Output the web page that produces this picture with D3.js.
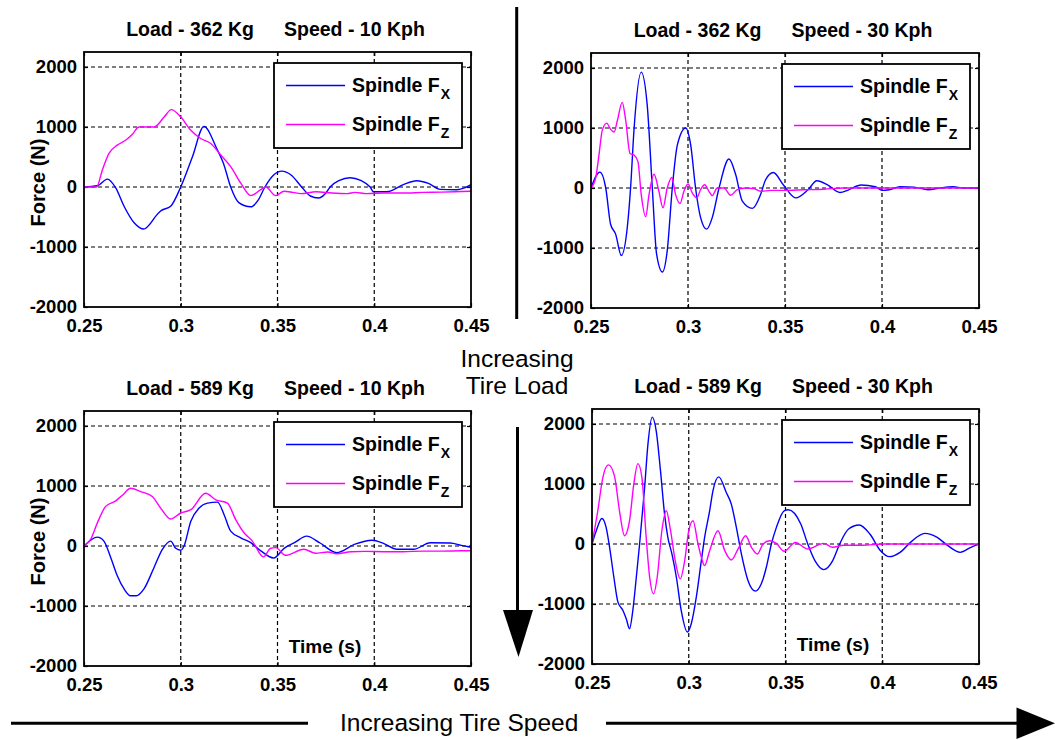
<!DOCTYPE html>
<html>
<head>
<meta charset="utf-8">
<script src="https://cdn.jsdelivr.net/npm/d3@7"></script>
<style>
  body { margin: 0; background: #fff; }
  svg { display: block; }
  text { font-family: "Liberation Sans", Arial, Helvetica, sans-serif; fill: #000; }
</style>
</head>
<body>
<svg id="chart" width="1055" height="740"></svg>
<script>
// Axis ticks shared by all four panels
const timeTicks = [0.25, 0.3, 0.35, 0.4, 0.45];
const timeTickLabels = ["0.25", "0.3", "0.35", "0.4", "0.45"];
const forceTicks = [-2000, -1000, 0, 1000, 2000];
const forceTickLabels = ["-2000", "-1000", "0", "1000", "2000"];

// Test conditions
const loads = ["362 Kg", "589 Kg"];
const speeds = ["10 Kph", "30 Kph"];
const seriesNames = ["Spindle F", "Spindle F"];
const seriesSubscripts = ["X", "Z"];

// Spindle forces [time (s), force (N)] — load 362 Kg, speed 10 Kph
const fx362at10 = [[0.25,0],[0.2569,20],[0.2621,132],[0.2664,-16],[0.2707,-320],[0.2759,-595],[0.2810,-700],[0.2840,-620],[0.2871,-485],[0.2896,-400],[0.2948,-320],[0.3000,0],[0.3060,500],[0.3120,1010],[0.3186,640],[0.3220,400],[0.3258,0],[0.3300,-260],[0.3362,-330],[0.3400,-220],[0.3435,0],[0.3480,200],[0.3522,265],[0.3570,200],[0.3625,0],[0.3670,-150],[0.3711,-183],[0.3750,-100],[0.3772,0],[0.3820,110],[0.3875,155],[0.3930,110],[0.3979,0],[0.3996,-80],[0.4065,-80],[0.4150,40],[0.4220,105],[0.4280,60],[0.4341,-40],[0.4427,-45],[0.4470,-10],[0.45,40]];
const fz362at10 = [[0.25,0],[0.2565,0],[0.2595,285],[0.2629,560],[0.2672,698],[0.2715,780],[0.2750,880],[0.2784,1000],[0.2862,1000],[0.2914,1165],[0.2951,1290],[0.3000,1165],[0.3052,945],[0.3103,808],[0.3155,725],[0.3207,533],[0.3258,340],[0.3310,66],[0.3362,-144],[0.3413,-45],[0.3439,0],[0.3491,-144],[0.3534,-70],[0.3580,-90],[0.3620,-110],[0.3700,-80],[0.3780,-100],[0.3860,-110],[0.3900,-90],[0.3960,-110],[0.4050,-100],[0.4150,-100],[0.4250,-90],[0.4350,-85],[0.4450,-75],[0.45,-70]];

// Load 362 Kg, speed 30 Kph
const fx362at30 = [[0.25,0],[0.2546,264],[0.2576,0],[0.2601,-604],[0.2627,-769],[0.2656,-1125],[0.2687,-659],[0.2704,0],[0.2722,988],[0.2759,1932],[0.2790,1372],[0.2816,0],[0.2838,-1098],[0.2868,-1400],[0.2893,-1043],[0.2919,0],[0.2945,714],[0.2988,999],[0.3014,714],[0.3039,0],[0.3065,-494],[0.3096,-686],[0.3125,-494],[0.3160,0],[0.3211,483],[0.3246,220],[0.3280,-220],[0.3332,-340],[0.3374,-110],[0.3400,137],[0.3440,258],[0.3491,55],[0.3555,-165],[0.3619,-28],[0.3664,120],[0.3719,54],[0.3783,-75],[0.3828,-30],[0.3892,50],[0.3965,20],[0.4000,-40],[0.4037,-30],[0.4093,20],[0.4165,15],[0.4237,-30],[0.4300,0],[0.4366,20],[0.4420,0],[0.45,0]];
const fz362at30 = [[0.25,0],[0.2524,165],[0.2541,549],[0.2558,961],[0.2581,1082],[0.2601,977],[0.2619,933],[0.2636,1125],[0.2661,1427],[0.2679,1125],[0.2701,576],[0.2722,549],[0.2742,439],[0.2759,-110],[0.2782,-478],[0.2799,-110],[0.2825,230],[0.2850,-55],[0.2871,-329],[0.2893,0],[0.2916,176],[0.2936,-110],[0.2959,-258],[0.2979,-55],[0.3000,66],[0.3022,-82],[0.3045,-165],[0.3065,-27],[0.3086,55],[0.3108,-55],[0.3125,-126],[0.3151,0],[0.3185,0],[0.3220,-121],[0.3254,-27],[0.3297,0],[0.3340,-10],[0.3374,-55],[0.3426,-40],[0.3495,-40],[0.3600,-30],[0.3700,-20],[0.3800,0],[0.45,0]];

// Load 589 Kg, speed 10 Kph
const fx589at10 = [[0.25,0],[0.2569,148],[0.2603,82],[0.2638,-192],[0.2672,-495],[0.2707,-715],[0.2740,-830],[0.2770,-830],[0.2810,-715],[0.2862,-357],[0.2905,-55],[0.2948,82],[0.2974,-38],[0.3000,-71],[0.3017,0],[0.3052,412],[0.3095,632],[0.3138,715],[0.3190,731],[0.3224,522],[0.3258,247],[0.3310,137],[0.3362,55],[0.3414,-82],[0.3480,-200],[0.3534,-40],[0.3590,60],[0.3650,165],[0.3720,50],[0.3806,-110],[0.3900,30],[0.3988,95],[0.4050,40],[0.4117,-55],[0.4203,-55],[0.4290,55],[0.4393,50],[0.4450,10],[0.45,-20]];
const fz589at10 = [[0.25,0],[0.2534,110],[0.2569,385],[0.2612,660],[0.2664,753],[0.2700,850],[0.2741,962],[0.2793,907],[0.2853,825],[0.2896,632],[0.2948,450],[0.3000,550],[0.3052,605],[0.3129,880],[0.3181,770],[0.3241,715],[0.3284,440],[0.3327,220],[0.3370,82],[0.3427,-181],[0.3465,-38],[0.3491,-27],[0.3541,-155],[0.3636,-55],[0.3697,-120],[0.3760,-100],[0.3806,-130],[0.3880,-95],[0.3950,-90],[0.4050,-95],[0.4150,-95],[0.4250,-85],[0.4350,-85],[0.4450,-80],[0.45,-80]];

// Load 589 Kg, speed 30 Kph
const fx589at30 = [[0.25,0],[0.2522,221],[0.2551,426],[0.2573,277],[0.2591,-55],[0.2613,-554],[0.2634,-969],[0.2660,-1107],[0.2677,-1246],[0.2694,-1412],[0.2711,-1107],[0.2729,-554],[0.2746,0],[0.2772,941],[0.2789,1661],[0.2811,2115],[0.2832,1883],[0.2854,1218],[0.2875,498],[0.2892,111],[0.2913,-166],[0.2936,-554],[0.2961,-1107],[0.2993,-1467],[0.3013,-1329],[0.3039,-886],[0.3065,-277],[0.3082,111],[0.3108,554],[0.3125,886],[0.3155,1118],[0.3194,858],[0.3220,664],[0.3246,277],[0.3272,-166],[0.3306,-609],[0.3344,-786],[0.3375,-664],[0.3401,-388],[0.3427,0],[0.3453,277],[0.3493,554],[0.3514,570],[0.3579,332],[0.3615,0],[0.3652,-277],[0.3698,-427],[0.3744,-277],[0.3780,0],[0.3826,249],[0.3881,316],[0.3936,166],[0.3991,-111],[0.4037,-211],[0.4092,-139],[0.4146,27],[0.4220,177],[0.4284,111],[0.4339,-28],[0.4403,-139],[0.4458,-55],[0.45,0]];
const fz589at30 = [[0.25,0],[0.2530,554],[0.2556,1107],[0.2585,1318],[0.2616,1135],[0.2642,554],[0.2668,138],[0.2694,388],[0.2716,997],[0.2737,1340],[0.2758,1107],[0.2780,111],[0.2798,-554],[0.2818,-830],[0.2837,-554],[0.2861,221],[0.2884,554],[0.2906,221],[0.2930,-277],[0.2956,-581],[0.2979,-277],[0.3000,221],[0.3022,388],[0.3048,0],[0.3065,-221],[0.3082,-360],[0.3108,-111],[0.3151,221],[0.3186,-111],[0.3220,-266],[0.3255,-83],[0.3294,138],[0.3324,-55],[0.3355,-166],[0.3384,0],[0.3419,55],[0.3453,10],[0.3493,-120],[0.3551,25],[0.3615,-83],[0.3698,10],[0.3744,-55],[0.3800,-20],[0.3900,-20],[0.4000,0],[0.45,0]];

// Panel placement on the page
const panels = [
  { load: 0, speed: 0, fx: fx362at10, fz: fz362at10, left: 84,  top: 52,  w: 387, h: 255, yTitle: true,  xTitle: false },
  { load: 0, speed: 1, fx: fx362at30, fz: fz362at30, left: 591, top: 53,  w: 388, h: 255, yTitle: false, xTitle: false },
  { load: 1, speed: 0, fx: fx589at10, fz: fz589at10, left: 84,  top: 411, w: 387, h: 255, yTitle: true,  xTitle: true },
  { load: 1, speed: 1, fx: fx589at30, fz: fz589at30, left: 592, top: 409, w: 387, h: 255, yTitle: false, xTitle: true }
];
const seriesColors = ["#0000ff", "#ff00ff"];

const svg = d3.select("#chart");
svg.append("rect").attr("width", 1055).attr("height", 740).attr("fill", "#fff");
const defs = svg.append("defs");

panels.forEach((p, i) => {
  const g = svg.append("g").attr("transform", `translate(${p.left},${p.top})`);
  const x = d3.scaleLinear().domain([0.25, 0.45]).range([0, p.w]);
  const y = d3.scaleLinear().domain([-2000, 2250]).range([p.h, 0]);

  defs.append("clipPath").attr("id", "clip" + i)
    .append("rect").attr("width", p.w).attr("height", p.h);

  // dashed grid
  const grid = g.append("g").attr("stroke", "#000").attr("stroke-width", 1.2)
    .attr("stroke-dasharray", "4,3");
  grid.selectAll(".gx").data(timeTicks.slice(1, -1)).join("line")
    .attr("x1", d => x(d)).attr("x2", d => x(d)).attr("y1", 0).attr("y2", p.h);
  grid.selectAll(".gy").data(forceTicks.slice(1)).join("line")
    .attr("y1", d => y(d)).attr("y2", d => y(d)).attr("x1", 0).attr("x2", p.w);

  // axes with inward ticks on all four sides
  const fmtX = d => timeTickLabels[timeTicks.indexOf(d)];
  const fmtY = d => forceTickLabels[forceTicks.indexOf(d)];
  const axB = g.append("g").attr("transform", `translate(0,${p.h})`)
    .call(d3.axisBottom(x).tickValues(timeTicks).tickFormat(fmtX).tickSize(-4).tickPadding(12));
  const axL = g.append("g")
    .call(d3.axisLeft(y).tickValues(forceTicks).tickFormat(fmtY).tickSize(-4).tickPadding(7));
  const axT = g.append("g")
    .call(d3.axisTop(x).tickValues(timeTicks).tickFormat("").tickSize(-4));
  const axR = g.append("g").attr("transform", `translate(${p.w},0)`)
    .call(d3.axisRight(y).tickValues(forceTicks).tickFormat("").tickSize(-4));
  [axB, axL, axT, axR].forEach(a => {
    a.select(".domain").remove();
    a.selectAll("line").attr("stroke", "#000").attr("stroke-width", 1.2);
    a.selectAll("text").attr("font-size", 18.5).attr("font-weight", "bold")
      .attr("font-family", '"Liberation Sans", Arial, sans-serif').attr("fill", "#000");
  });

  // force traces
  const line = d3.line().x(d => x(d[0])).y(d => y(d[1])).curve(d3.curveMonotoneX);
  const traces = g.append("g").attr("clip-path", `url(#clip${i})`);
  [p.fx, p.fz].forEach((s, k) => {
    traces.append("path").datum(s).attr("d", line)
      .attr("fill", "none").attr("stroke", seriesColors[k])
      .attr("stroke-width", 1.4).attr("stroke-linejoin", "round");
  });

  // plot frame
  g.append("rect").attr("width", p.w).attr("height", p.h)
    .attr("fill", "none").attr("stroke", "#000").attr("stroke-width", 1.8);

  // legend
  const lw = 188, lh = 85;
  const lg = g.append("g").attr("transform", `translate(${p.w - 9 - lw},11)`);
  lg.append("rect").attr("width", lw).attr("height", lh)
    .attr("fill", "#fff").attr("stroke", "#000").attr("stroke-width", 1.8);
  [22.5, 61.5].forEach((ry, k) => {
    lg.append("line").attr("x1", 12).attr("x2", 71).attr("y1", ry).attr("y2", ry)
      .attr("stroke", seriesColors[k]).attr("stroke-width", 1.4);
    const t = lg.append("text").attr("x", 78).attr("y", ry + 6.5)
      .attr("font-size", 19.5).attr("font-weight", "bold").text(seriesNames[k]);
    t.append("tspan").attr("dy", 7).attr("dx", 1).attr("font-size", 14).text(seriesSubscripts[k]);
  });

  // panel title
  const title = g.append("text").attr("x", p.w / 2 - 2).attr("y", -16)
    .attr("text-anchor", "middle").attr("font-size", 19.5).attr("font-weight", "bold");
  title.append("tspan").text("Load - " + loads[p.load]);
  title.append("tspan").attr("dx", 30).text("Speed - " + speeds[p.speed]);

  if (p.yTitle) {
    g.append("text").attr("transform", `translate(${44.5 - p.left},${p.h / 2 + 3}) rotate(-90)`)
      .attr("text-anchor", "middle").attr("font-size", 20).attr("font-weight", "bold")
      .text("Force (N)");
  }
  if (p.xTitle) {
    g.append("text").attr("x", 241).attr("y", p.h - 13)
      .attr("text-anchor", "middle").attr("font-size", 19).attr("font-weight", "bold")
      .text("Time (s)");
  }
});

// separators and direction arrows
const ink = svg.append("g").attr("stroke", "#000").attr("stroke-width", 3);
ink.append("line").attr("x1", 516.7).attr("x2", 516.7).attr("y1", 7).attr("y2", 319);
ink.append("line").attr("x1", 517.5).attr("x2", 517.5).attr("y1", 427).attr("y2", 612);
ink.append("line").attr("x1", 11).attr("x2", 308).attr("y1", 723.3).attr("y2", 723.3);
ink.append("line").attr("x1", 606).attr("x2", 1018).attr("y1", 723.3).attr("y2", 723.3);
svg.append("path").attr("d", "M503,610 L533,610 L518.5,657 Z").attr("fill", "#000");
svg.append("path").attr("d", "M1016.5,707.5 L1016.5,739 L1055,723.3 Z").attr("fill", "#000");

svg.append("text").attr("x", 517).attr("y", 367).attr("text-anchor", "middle")
  .attr("font-size", 24.5).text("Increasing");
svg.append("text").attr("x", 517).attr("y", 394).attr("text-anchor", "middle")
  .attr("font-size", 24.5).text("Tire Load");
svg.append("text").attr("x", 340).attr("y", 731)
  .attr("font-size", 24.5).text("Increasing Tire Speed");
</script>
</body>
</html>
